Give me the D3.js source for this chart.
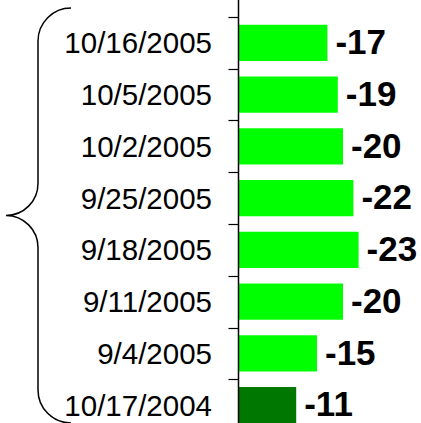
<!DOCTYPE html>
<html>
<head>
<meta charset="utf-8">
<script src="https://cdn.jsdelivr.net/npm/d3@7"></script>
<style>
  body { margin: 0; background: #fff; }
  svg { display: block; }
  .cat-label { font-family: "Liberation Sans", Arial, sans-serif; font-size: 29.5px; fill: #000; }
  .val-label { font-family: "Liberation Sans", Arial, sans-serif; font-size: 35px; font-weight: bold; fill: #000; }
</style>
</head>
<body>
<div id="main"></div>
<script>
// chart data
var dates = ['10/16/2005', '10/5/2005', '10/2/2005', '9/25/2005', '9/18/2005', '9/11/2005', '9/4/2005', '10/17/2004'];
var values = [-17, -19, -20, -22, -23, -20, -15, -11];
var barColors = ['#00ff00', '#00ff00', '#00ff00', '#00ff00', '#00ff00', '#00ff00', '#00ff00', '#007800'];

(function () {
var width = 421, height = 423;

var svg = d3.select('#main').append('svg')
  .attr('width', width)
  .attr('height', height);

var axisX = 238.5;

var x = d3.scaleLinear()
  .domain([0, 25])
  .range([axisX + 0.5, axisX + 0.5 + 25 * 5.2]);

var y = d3.scaleBand()
  .domain(dates)
  .range([17, 431])
  .paddingInner(0.3)
  .paddingOuter(0.15);

var step = y.step();
var rows = dates.map(function(d, i) {
  return {date: d, value: values[i], color: barColors[i]};
});

// bars
svg.append('g').selectAll('rect')
  .data(rows)
  .enter()
  .append('rect')
  .attr('x', x(0))
  .attr('y', function(d) { return y(d.date); })
  .attr('width', function(d) { return x(Math.abs(d.value)) - x(0); })
  .attr('height', y.bandwidth())
  .attr('fill', function(d) { return d.color; });

// axis line and ticks at band boundaries
var axisG = svg.append('g').attr('class', 'axis');
axisG.append('line')
  .attr('x1', axisX).attr('x2', axisX)
  .attr('y1', 0).attr('y2', height)
  .attr('stroke', '#000')
  .attr('stroke-width', 1.5);

axisG.selectAll('.tick')
  .data(dates)
  .enter()
  .append('line')
  .attr('class', 'tick')
  .attr('x1', axisX - 10).attr('x2', axisX)
  .attr('y1', function(d) { return Math.round(y(d) - step * 0.15) + 0.5; })
  .attr('y2', function(d) { return Math.round(y(d) - step * 0.15) + 0.5; })
  .attr('stroke', '#000')
  .attr('stroke-width', 1.2);

// category labels
svg.append('g').selectAll('text')
  .data(rows)
  .enter()
  .append('text')
  .attr('class', 'cat-label')
  .attr('x', 212)
  .attr('y', function(d) { return y(d.date) + y.bandwidth() / 2; })
  .attr('dy', '0.36em')
  .style('text-anchor', 'end')
  .text(function(d) { return d.date; });

// value labels
svg.append('g').selectAll('text')
  .data(rows)
  .enter()
  .append('text')
  .attr('class', 'val-label')
  .attr('x', function(d) { return x(Math.abs(d.value)) + 8; })
  .attr('y', function(d) { return y(d.date) + y.bandwidth() / 2; })
  .attr('dy', '0.32em')
  .text(function(d) { return d.value; });

// brace on the left
var top = y.range()[0] - 9;
var bot = height;
var mid = (top + bot) / 2;
var bx = 38, tipX = 6, endX = 71, r = 33, rm = bx - tipX;
var brace = 'M' + endX + ',' + top +
  ' A' + r + ',' + r + ' 0 0 0 ' + bx + ',' + (top + r) +
  ' L' + bx + ',' + (mid - rm) +
  ' A' + rm + ',' + rm + ' 0 0 1 ' + tipX + ',' + mid +
  ' A' + rm + ',' + rm + ' 0 0 1 ' + bx + ',' + (mid + rm) +
  ' L' + bx + ',' + (bot - r) +
  ' A' + r + ',' + r + ' 0 0 0 ' + endX + ',' + bot;

svg.append('path')
  .attr('d', brace)
  .attr('fill', 'none')
  .attr('stroke', '#000')
  .attr('stroke-width', 1.5);
})();
</script>
</body>
</html>
